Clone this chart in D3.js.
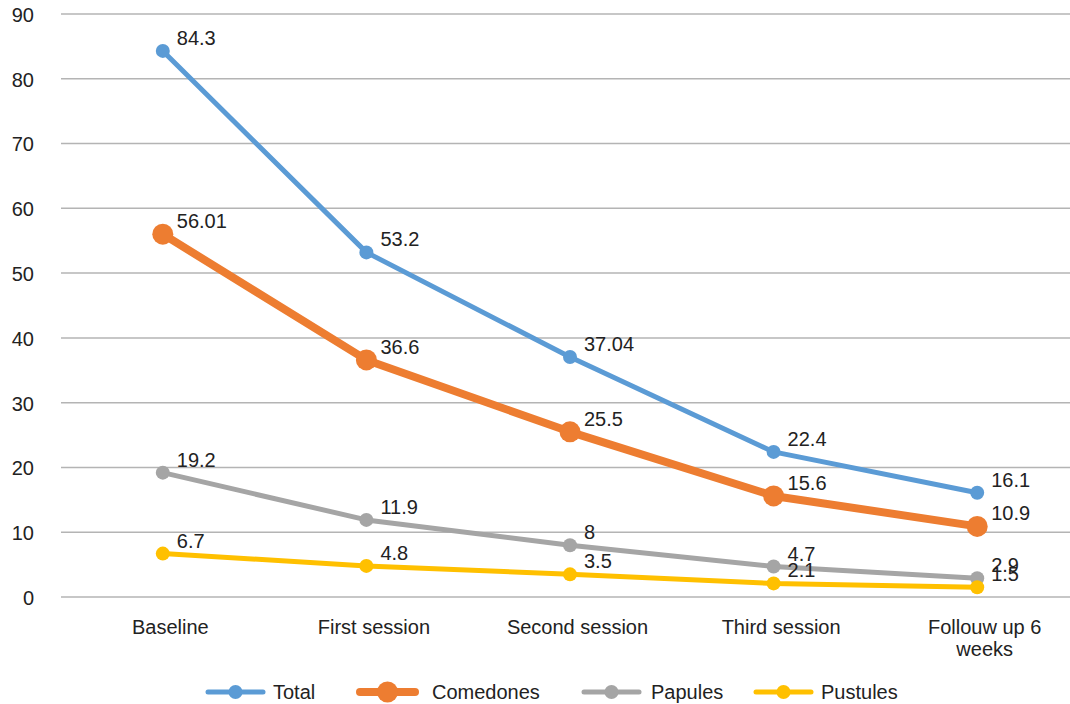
<!DOCTYPE html>
<html><head><meta charset="utf-8">
<script src="https://cdn.jsdelivr.net/npm/d3@7"></script>
<style>body{margin:0;background:#fff}svg{display:block;font-family:"Liberation Sans",Arial,sans-serif}</style>
</head><body>
<svg id="c" width="1070" height="704"></svg>
<script>
const categories = ["Baseline", "First session", "Second session", "Third session", "Follouw up 6\nweeks"];
const total = [84.3, 53.2, 37.04, 22.4, 16.1];
const comedones = [56.01, 36.6, 25.5, 15.6, 10.9];
const papules = [19.2, 11.9, 8, 4.7, 2.9];
const pustules = [6.7, 4.8, 3.5, 2.1, 1.5];
const yTicks = [0, 10, 20, 30, 40, 50, 60, 70, 80, 90];
const seriesNames = ["Total", "Comedones", "Papules", "Pustules"];

const FS = 20;
const series = [
  {name: seriesNames[0], values: total, color: "#5B9BD5", width: 5, r: 7},
  {name: seriesNames[1], values: comedones, color: "#ED7D31", width: 8, r: 10.5},
  {name: seriesNames[2], values: papules, color: "#A5A5A5", width: 5, r: 7},
  {name: seriesNames[3], values: pustules, color: "#FFC000", width: 5, r: 7}
];

const svg = d3.select("#c");
const x = d3.scalePoint().domain(categories).range([61, 1079]).padding(0.5);
const y = d3.scaleLinear().domain([0, 90]).range([597, 14]);

svg.append("g").selectAll("line").data(yTicks).join("line")
  .attr("x1", 61).attr("x2", 1070)
  .attr("y1", d => y(d)).attr("y2", d => y(d))
  .attr("stroke", "#B4B4B4").attr("stroke-width", 1.5);

const yAxis = d3.axisLeft(y).tickValues(yTicks).tickSize(0).tickPadding(0);
const ya = svg.append("g").attr("transform", "translate(34,1)").call(yAxis);
ya.select(".domain").remove();
ya.selectAll("text").attr("font-size", FS).attr("fill", "#222").attr("font-family", "Liberation Sans, Arial, sans-serif");

const xAxis = d3.axisBottom(x).tickSize(0).tickPadding(0).tickFormat(() => "");
const xa = svg.append("g").attr("transform", "translate(7,0)").call(xAxis);
xa.select(".domain").remove();
xa.selectAll(".tick").each(function(d) {
  const t = d3.select(this).append("text").attr("text-anchor", "middle")
    .attr("font-size", FS).attr("fill", "#222");
  d.split("\n").forEach((s, i) => t.append("tspan").attr("x", 0).attr("y", 634 + i * 22).text(s));
});

const line = d3.line().x((d, i) => x(categories[i])).y(d => y(d));

series.forEach(s => {
  const g = svg.append("g");
  g.append("path").datum(s.values).attr("d", line).attr("fill", "none")
    .attr("stroke", s.color).attr("stroke-width", s.width).attr("stroke-linejoin", "round");
  g.selectAll("circle").data(s.values).join("circle")
    .attr("cx", (d, i) => x(categories[i])).attr("cy", d => y(d)).attr("r", s.r)
    .attr("fill", s.color);
});
series.forEach(s => {
  svg.append("g").selectAll("text").data(s.values).join("text")
    .attr("x", (d, i) => x(categories[i]) + 14).attr("y", d => y(d) - 6)
    .attr("font-size", FS).attr("fill", "#222").text(d => d);
});

const legendX = [208, 360, 584, 756];
const legendTextX = [273, 432, 651, 821];
const legendY = 692;
series.forEach((s, i) => {
  const g = svg.append("g");
  g.append("line").attr("x1", legendX[i]).attr("x2", legendX[i] + 55)
    .attr("y1", legendY).attr("y2", legendY).attr("stroke", s.color)
    .attr("stroke-width", s.width).attr("stroke-linecap", "round");
  g.append("circle").attr("cx", legendX[i] + 27.5).attr("cy", legendY).attr("r", s.r).attr("fill", s.color);
  g.append("text").attr("x", legendTextX[i]).attr("y", legendY + 7).attr("font-size", FS).attr("fill", "#222").text(s.name);
});
</script>
</body></html>
